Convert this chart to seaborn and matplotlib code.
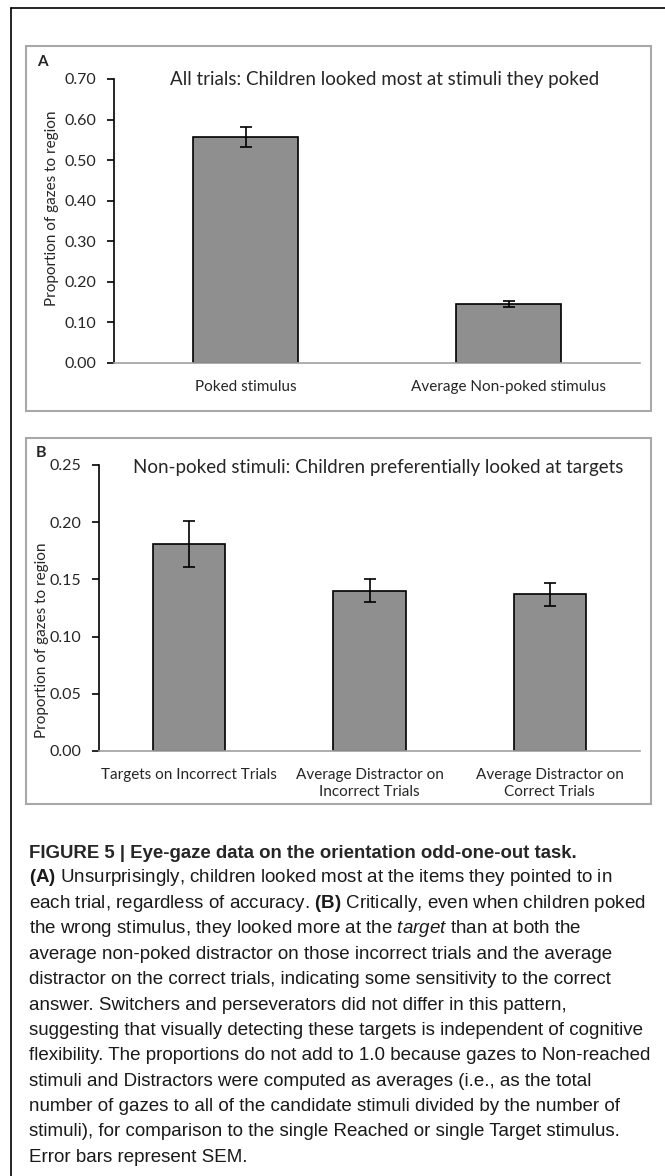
import numpy as np
import pandas as pd
import seaborn as sns
import matplotlib.pyplot as plt
from matplotlib.patches import Rectangle
from matplotlib.lines import Line2D

# 数据
cats_a = ['Poked stimulus', 'Average Non-poked stimulus']
vals_a = [0.557, 0.146]
sem_a = [0.025, 0.008]

cats_b = ['Targets on Incorrect Trials',
          'Average Distractor on\nIncorrect Trials',
          'Average Distractor on\nCorrect Trials']
vals_b = [0.181, 0.140, 0.137]
sem_b = [0.020, 0.010, 0.010]

yticks_a = [0.0, 0.1, 0.2, 0.3, 0.4, 0.5, 0.6, 0.7]
yticks_b = [0.0, 0.05, 0.10, 0.15, 0.20, 0.25]

title_a = 'All trials: Children looked most at stimuli they poked'
title_b = 'Non-poked stimuli: Children preferentially looked at targets'
ylab = 'Proportion of gazes to region'

caption_head = 'FIGURE 5 | Eye-gaze data on the orientation odd-one-out task.'
caption_lines = [
    r'$\mathbf{(A)}$ Unsurprisingly, children looked most at the items they pointed to in',
    r'each trial, regardless of accuracy. $\mathbf{(B)}$ Critically, even when children poked',
    r'the wrong stimulus, they looked more at the $\mathit{target}$ than at both the',
    'average non-poked distractor on those incorrect trials and the average',
    'distractor on the correct trials, indicating some sensitivity to the correct',
    'answer. Switchers and perseverators did not differ in this pattern,',
    'suggesting that visually detecting these targets is independent of cognitive',
    'flexibility. The proportions do not add to 1.0 because gazes to Non-reached',
    'stimuli and Distractors were computed as averages (i.e., as the total',
    'number of gazes to all of the candidate stimuli divided by the number of',
    'stimuli), for comparison to the single Reached or single Target stimulus.',
    'Error bars represent SEM.',
]

sns.set_style('white')
plt.rcParams['font.family'] = ['Lato', 'DejaVu Sans']
plt.rcParams['mathtext.fontset'] = 'custom'
plt.rcParams['mathtext.rm'] = 'Liberation Sans'
plt.rcParams['mathtext.bf'] = 'Liberation Sans:bold'
plt.rcParams['mathtext.it'] = 'Liberation Sans:italic'

W, H = 665, 1176
fig = plt.figure(figsize=(W / 100, H / 100), dpi=100)


def fx(px):
    return px / W


def fy(py):
    return 1 - py / H


# 外框
fig.add_artist(Line2D([fx(11), fx(11)], [fy(8), 0], color='black', lw=1.2))
fig.add_artist(Line2D([fx(11), 1], [fy(8), fy(8)], color='black', lw=1.2))
# 面板边框
for top, bot in [(46, 411), (438, 804)]:
    fig.add_artist(Rectangle((fx(26), fy(bot)), fx(651) - fx(26), fy(top) - fy(bot),
                             fill=False, edgecolor='#a8a8a8', lw=1.5))


def draw_panel(rect, cats, vals, sems, yticks, ylim, ylab_pos):
    ax = fig.add_axes(rect)
    df = pd.DataFrame({'cat': cats, 'val': vals})
    sns.barplot(data=df, x='cat', y='val', order=cats, color='#8f8f8f',
                saturation=1, width=0.4, edgecolor='black', linewidth=1.2,
                errorbar=None, ax=ax)
    ax.errorbar(range(len(cats)), vals, yerr=sems, fmt='none', ecolor='black',
                elinewidth=1.2, capsize=4, capthick=1.2)
    n = len(cats)
    ax.set_xlim(-0.5, n - 0.5)
    ax.set_ylim(*ylim)
    ax.set_yticks(yticks)
    ax.set_yticklabels([f'{t:.2f}' for t in yticks], fontsize=11.5)
    ax.set_xticks(range(n))
    ax.set_xticklabels(cats, fontsize=11, linespacing=1.3)
    ax.set_xticks(np.arange(n + 1) - 0.5, minor=True)
    ax.tick_params(axis='x', which='major', length=0, pad=12)
    ax.tick_params(axis='x', which='minor', length=4, color='#a0a0a0', width=1)
    ax.tick_params(axis='y', length=5, width=1.2, color='black', pad=8, left=True)
    for s in ['top', 'right']:
        ax.spines[s].set_visible(False)
    ax.spines['left'].set_color('black')
    ax.spines['left'].set_linewidth(1.2)
    ax.spines['bottom'].set_color('#a0a0a0')
    ax.spines['bottom'].set_linewidth(1.2)
    ax.set_xlabel('')
    ax.set_ylabel(ylab, fontsize=11, va='center')
    ax.yaxis.set_label_coords(*ylab_pos)
    return ax


ax_a = draw_panel([fx(114), fy(363), fx(640) - fx(114), fy(79) - fy(363)],
                  cats_a, vals_a, sem_a, yticks_a, (0, 0.7), (-0.118, 0.546))
ax_b = draw_panel([fx(99), fy(751), fx(640) - fx(99), fy(465) - fy(751)],
                  cats_b, vals_b, sem_b, yticks_b, (0, 0.25), (-0.105, 0.388))

fig.text(fx(385), fy(80), title_a, ha='center', va='center', fontsize=13.5)
fig.text(fx(378), fy(467), title_b, ha='center', va='center', fontsize=13.5)
fig.text(fx(37), fy(62), 'A', ha='left', va='center', fontsize=11, fontweight='bold')
fig.text(fx(36), fy(453), 'B', ha='left', va='center', fontsize=11.5, fontweight='bold')

# 图注
fig.text(fx(29), fy(853), caption_head, ha='left', va='center', fontsize=13.4,
         fontweight='bold', family='Liberation Sans')
for i, line in enumerate(caption_lines):
    fig.text(fx(29), fy(878 + 25.4 * i), line, ha='left', va='center',
             fontsize=13.5, family='Liberation Sans', color='#1a1a1a')

fig.savefig('out.png', dpi=100)
